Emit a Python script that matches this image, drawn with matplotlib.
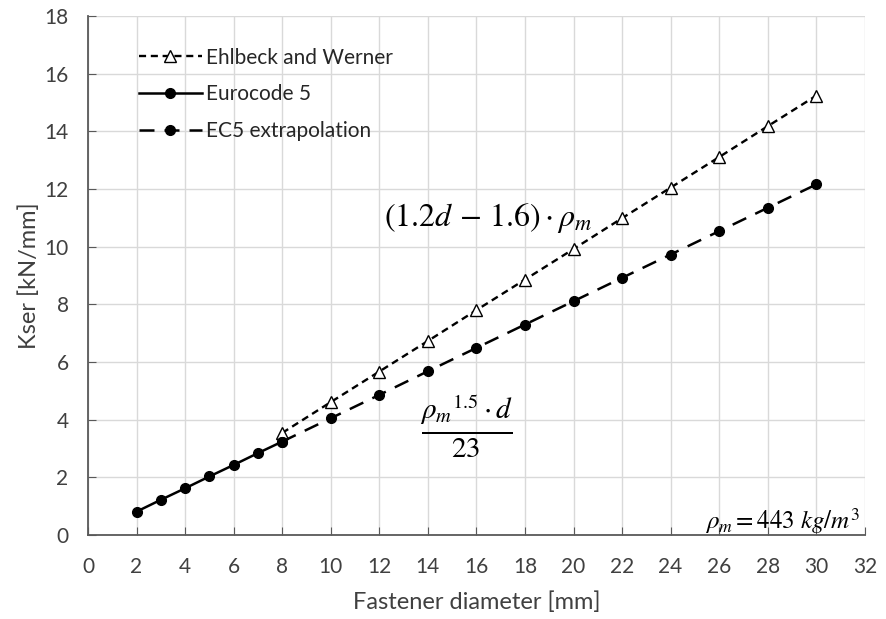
import matplotlib.pyplot as plt

plt.rcParams['font.family'] = ['Lato', 'DejaVu Sans']
plt.rcParams['mathtext.fontset'] = 'stix'

# Ehlbeck and Werner, d = 8..30 mm
d_ew = [8, 10, 12, 14, 16, 18, 20, 22, 24, 26, 28, 30]
k_ew = [3.54, 4.61, 5.67, 6.73, 7.80, 8.86, 9.92, 10.99, 12.05, 13.11, 14.18, 15.24]

# Eurocode 5, d = 2..8 mm
d_ec5 = [2, 3, 4, 5, 6, 7, 8]
k_ec5 = [0.81, 1.22, 1.62, 2.03, 2.43, 2.84, 3.24]

# EC5 extrapolated beyond 8 mm
d_ext = [8, 10, 12, 14, 16, 18, 20, 22, 24, 26, 28, 30]
k_ext = [3.24, 4.05, 4.86, 5.68, 6.49, 7.30, 8.11, 8.92, 9.73, 10.54, 11.35, 12.16]

fig = plt.figure(figsize=(8.87, 6.19), dpi=100)
ax = fig.add_axes([0.0992, 0.1357, 0.8758, 0.8383])

ax.plot(d_ew, k_ew, linestyle=(0, (3, 2)), color='black', lw=1.7,
        marker='^', markersize=8, markerfacecolor='white', markeredgecolor='black',
        label='Ehlbeck and Werner', zorder=3)
ax.plot(d_ec5, k_ec5, '-', color='black', lw=1.8, marker='o', markersize=7,
        label='Eurocode 5', zorder=4)
ax.plot(d_ext, k_ext, linestyle=(0, (6, 4)), color='black', lw=1.8, marker='o',
        markersize=7, label='EC5 extrapolation', zorder=3)

ax.set_xlim(0, 32)
ax.set_ylim(0, 18)
ax.set_xticks(range(0, 33, 2))
ax.set_yticks(range(0, 19, 2))
ax.grid(True, color='#d9d9d9', lw=1)
ax.set_axisbelow(True)
ax.tick_params(direction='in', length=6, color='#595959', labelsize=15,
               labelcolor='#404040')
ax.tick_params(axis='x', pad=16)
ax.tick_params(axis='y', pad=14)
for s in ['top', 'right']:
    ax.spines[s].set_visible(False)
for s in ['left', 'bottom']:
    ax.spines[s].set_color('#595959')
    ax.spines[s].set_linewidth(1.3)

ax.set_xlabel('Fastener diameter [mm]', fontsize=17, color='#404040', labelpad=10)
ax.set_ylabel('Kser [kN/mm]', fontsize=17, color='#404040', labelpad=3)

ax.text(16.5, 11.0, r'$(1.2d\,-\,1.6)\cdot\rho_m$', fontsize=23, ha='center', va='center')
ax.text(15.6, 3.75, r'$\frac{\rho_m{}^{1.5}\cdot d}{23}$', fontsize=30, ha='center', va='center')
ax.text(31.8, 0.5, r'$\rho_m = 443\ kg/m^3$', fontsize=18, ha='right', va='center')

leg = ax.legend(loc='upper left', frameon=False, fontsize=15, handlelength=3.0,
                handletextpad=0.2, labelspacing=0.8, borderaxespad=0.0,
                bbox_to_anchor=(0.055, 0.955))
for t in leg.get_texts():
    t.set_color('#262626')

fig.savefig('out.png', dpi=100)
